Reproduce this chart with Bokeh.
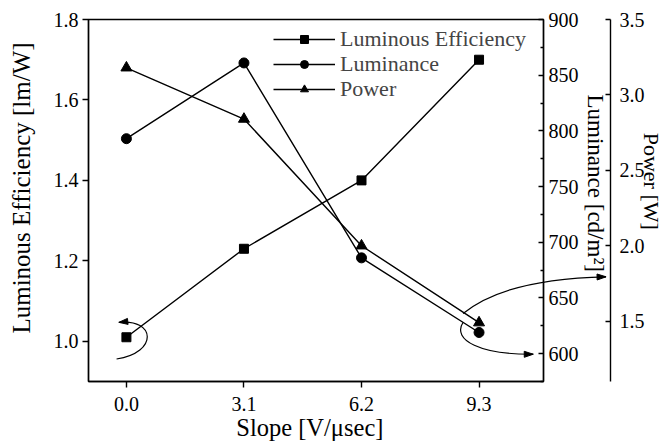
import numpy as np
from bokeh.plotting import figure
from bokeh.models import (Range1d, LinearAxis, FixedTicker, PrintfTickFormatter,
                          Legend, LegendItem)
from bokeh.embed import file_html
from bokeh.resources import INLINE

# ---------------- data ----------------
slope = [0.0, 3.1, 6.2, 9.3]
lum_eff = [1.01, 1.23, 1.40, 1.70]
luminance = [793, 861, 686, 619]
power = [3.18, 2.84, 2.00, 1.49]

x_ticks = [0.0, 3.1, 6.2, 9.3]
le_ticks = [1.0, 1.2, 1.4, 1.6, 1.8]
lum_ticks = [600, 650, 700, 750, 800, 850, 900]
lum_minor = [575, 625, 675, 725, 775, 825, 875]
pw_ticks = [1.5, 2.0, 2.5, 3.0, 3.5]

series_names = ["Luminous Efficiency", "Luminance", "Power"]

# curved pointer arrows (cubic Bezier: start, control 1, control 2, tip; data units)
arrow_le = [(-0.26, 0.956), (0.85, 0.972), (0.77, 1.057), (-0.20, 1.047)]     # -> left axis (lm/W units)
arrow_pw = [(8.88, 636.0), (9.63, 657.0), (10.95, 667.8), (12.65, 669.0)]     # -> power axis (cd/m2 units)
arrow_lum = [(8.88, 628.2), (8.57, 612.0), (9.36, 599.0), (10.73, 599.5)]     # -> luminance axis (cd/m2 units)

FONT = "Liberation Serif"
BLACK = "black"
LW = 1.4
FRAME_W, FRAME_H = 455, 362
NB = "\u00a0"

X_RANGE = (-1, 11)
LE_RANGE = (0.9, 1.8)
LUM_RANGE = (575, 900)
PW_RANGE = (1.1, 3.5)

p = figure(frame_width=FRAME_W, frame_height=FRAME_H,
           x_range=Range1d(*X_RANGE), y_range=Range1d(*LE_RANGE),
           output_backend="svg", toolbar_location=None,
           min_border_left=88, min_border_top=19, min_border_right=0, min_border_bottom=0)
p.extra_y_ranges = {"lum": Range1d(*LUM_RANGE), "pw": Range1d(*PW_RANGE)}
p.grid.visible = False
p.outline_line_color = BLACK
p.outline_line_width = LW
p.background_fill_color = "white"
p.border_fill_color = "white"


def style_axis(ax, tick_in, tick_out, label_size="20px"):
    ax.axis_line_color = BLACK
    ax.axis_line_width = LW
    ax.major_tick_line_color = BLACK
    ax.major_tick_line_width = LW
    ax.major_tick_in = tick_in
    ax.major_tick_out = tick_out
    ax.minor_tick_line_color = None
    ax.major_label_text_font = FONT
    ax.major_label_text_font_size = label_size
    ax.major_label_text_color = BLACK
    ax.axis_label_text_font = FONT
    ax.axis_label_text_font_style = "normal"
    ax.axis_label_text_color = BLACK


xa = p.xaxis[0]
xa.ticker = FixedTicker(ticks=x_ticks)
xa.formatter = PrintfTickFormatter(format="%.1f")
style_axis(xa, 0, 6)
xa.major_label_standoff = 9
xa.axis_label = "Slope [V/μsec]" + NB * 2
xa.axis_label_text_font_size = "24.5px"
xa.axis_label_standoff = 0

ya = p.yaxis[0]
ya.ticker = FixedTicker(ticks=le_ticks)
ya.formatter = PrintfTickFormatter(format="%.1f")
style_axis(ya, 0, 6)
ya.major_label_standoff = 4
ya.axis_label = NB * 4 + "Luminous Efficiency [lm/W]"
ya.axis_label_text_font_size = "25px"
ya.axis_label_standoff = 16

lum_axis = LinearAxis(y_range_name="lum",
                      ticker=FixedTicker(ticks=lum_ticks, minor_ticks=lum_minor))
style_axis(lum_axis, 5, 0)
lum_axis.minor_tick_line_color = BLACK
lum_axis.minor_tick_line_width = LW
lum_axis.minor_tick_in = 3
lum_axis.minor_tick_out = 0
lum_axis.major_label_standoff = 5
lum_axis.axis_label = "Luminance [cd/m²]" + NB * 6
lum_axis.axis_label_text_font_size = "23px"
lum_axis.axis_label_standoff = 1
p.add_layout(lum_axis, "right")

spacer = LinearAxis(y_range_name="lum", ticker=FixedTicker(ticks=[]))
spacer.axis_line_color = None
spacer.major_tick_line_color = None
spacer.minor_tick_line_color = None
spacer.major_tick_in = 0
spacer.major_tick_out = 12
spacer.major_label_standoff = 0
p.add_layout(spacer, "right")

pw_axis = LinearAxis(y_range_name="pw", ticker=FixedTicker(ticks=pw_ticks),
                     formatter=PrintfTickFormatter(format="%.1f"))
style_axis(pw_axis, 5, 0)
pw_axis.major_label_standoff = 9
pw_axis.axis_label = "Power [W]" + NB * 7
pw_axis.axis_label_text_font_size = "22px"
pw_axis.axis_label_standoff = -9
p.add_layout(pw_axis, "right")

# ---------------- series ----------------
l1 = p.line(slope, lum_eff, line_color=BLACK, line_width=LW)
m1 = p.scatter(slope, lum_eff, marker="square", size=9, fill_color=BLACK, line_color=BLACK)
l2 = p.line(slope, luminance, line_color=BLACK, line_width=LW, y_range_name="lum")
m2 = p.scatter(slope, luminance, marker="circle", size=10, fill_color=BLACK, line_color=BLACK,
               y_range_name="lum")
l3 = p.line(slope, power, line_color=BLACK, line_width=LW, y_range_name="pw")
m3 = p.scatter(slope, power, marker="triangle", size=11, fill_color=BLACK, line_color=BLACK,
               y_range_name="pw")

# one legend per row, so the row pitch follows the original (screen px from frame bottom-left)
legend_rows = [(series_names[0], [l1, m1], 329),
               (series_names[1], [l2, m2], 304),
               (series_names[2], [l3, m3], 279)]
for name, rends, vy in legend_rows:
    lg = Legend(items=[LegendItem(label=name, renderers=rends)],
                location=(185, vy), margin=0, padding=0, spacing=0,
                glyph_width=62, glyph_height=20, label_standoff=5,
                label_text_font=FONT, label_text_font_size="22px",
                border_line_color=None, background_fill_alpha=0)
    p.add_layout(lg)


# ---------------- curved arrows (overlay-level glyphs are not clipped to the frame) ----------------
def lum_to_le(v):
    return LE_RANGE[0] + (v - LUM_RANGE[0]) * (LE_RANGE[1] - LE_RANGE[0]) / (LUM_RANGE[1] - LUM_RANGE[0])


def curved_arrow(ctrl, head_len=9.0, head_half=3.0):
    (x0, y0), (cx0, cy0), (cx1, cy1), (x1, y1) = ctrl
    p.bezier(x0=[x0], y0=[y0], x1=[x1], y1=[y1], cx0=[cx0], cy0=[cy0], cx1=[cx1], cy1=[cy1],
             line_color=BLACK, line_width=1.2, level="overlay")
    # head, shaped in pixel space
    dx = (X_RANGE[1] - X_RANGE[0]) / FRAME_W
    dy = (LE_RANGE[1] - LE_RANGE[0]) / FRAME_H
    tip = np.array([x1 / dx, y1 / dy])
    d = tip - np.array([cx1 / dx, cy1 / dy])
    d = d / np.hypot(*d)
    nrm = np.array([-d[1], d[0]])
    base = tip - d * head_len
    tri = np.array([tip, base + nrm * head_half, base - nrm * head_half]) * np.array([dx, dy])
    p.patch([float(v) for v in tri[:, 0]], [float(v) for v in tri[:, 1]],
            fill_color=BLACK, line_color=BLACK, line_width=1, level="overlay")


curved_arrow(arrow_le)
curved_arrow([(x, lum_to_le(y)) for x, y in arrow_pw])
curved_arrow([(x, lum_to_le(y)) for x, y in arrow_lum])

open("out.html", "w").write(file_html(p, INLINE))
